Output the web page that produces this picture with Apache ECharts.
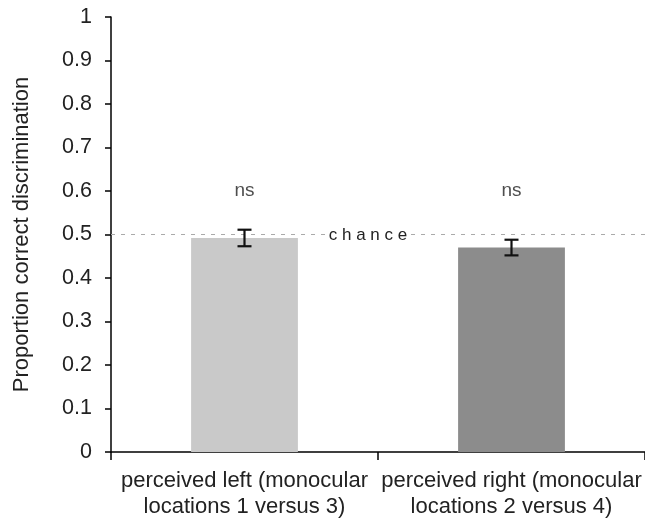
<!DOCTYPE html>
<html>
<head>
<meta charset="utf-8">
<script src="https://cdn.jsdelivr.net/npm/echarts@6/dist/echarts.min.js"></script>
<style>
  html, body { margin: 0; padding: 0; background: #fff; }
  #chart { width: 645px; height: 521px; }
</style>
</head>
<body>
<div id="chart"></div>
<script>
// bar chart: proportion correct discrimination, with chance line

var categories = ['perceived left (monocular\nlocations 1 versus 3)', 'perceived right (monocular\nlocations 2 versus 4)'];
var means = [0.492, 0.470];
var errors = [0.019, 0.018];
var barColors = ['#c9c9c9', '#8c8c8c'];
var sigLabels = ['ns', 'ns'];
var sigLevel = 0.6;
var chance = 0.5;

var chart = echarts.init(document.getElementById('chart'));

var font = 'Liberation Sans, Arial, sans-serif';

option = {
    animation: false,
    grid: {
        left: 111,
        right: 0,
        top: 17,
        bottom: 69
    },
    xAxis: {
        type: 'category',
        data: categories,
        axisLine: { lineStyle: { color: '#000', width: 1.5 } },
        axisTick: { show: true, length: 8, lineStyle: { color: '#000', width: 1.5 } },
        axisLabel: {
            color: '#222',
            fontSize: 22,
            fontFamily: font,
            lineHeight: 26,
            margin: 16,
            interval: 0
        }
    },
    yAxis: {
        type: 'value',
        min: 0,
        max: 1,
        interval: 0.1,
        name: 'Proportion correct discrimination',
        nameLocation: 'middle',
        nameGap: 78,
        nameTextStyle: { color: '#222', fontSize: 22, fontFamily: font },
        splitLine: { show: false },
        axisLine: { show: true, lineStyle: { color: '#000', width: 1.5 } },
        axisTick: { show: true, length: 6, lineStyle: { color: '#000', width: 1.5 } },
        axisLabel: {
            color: '#222',
            fontSize: 21.5,
            fontFamily: font,
            margin: 19,
            formatter: function (v) { return String(Math.round(v * 10) / 10); }
        }
    },
    series: [
        {
            type: 'bar',
            barWidth: '40%',
            data: means.map(function (v, i) {
                return { value: v, itemStyle: { color: barColors[i] } };
            }),
            markLine: {
                silent: true,
                symbol: 'none',
                lineStyle: { color: '#aaa', type: [4, 6], width: 1.2 },
                label: {
                    show: true,
                    position: 'middle',
                    formatter: '{t|c h a n c e}{g|}',
                    distance: -9,
                    rich: {
                        t: {
                            color: '#222',
                            fontSize: 17,
                            fontFamily: font,
                            backgroundColor: '#fff',
                            padding: [0, 3]
                        },
                        g: { width: 20 }
                    }
                },
                data: [{ yAxis: chance }]
            }
        },
        {
            // error bars
            type: 'custom',
            data: means.map(function (v, i) { return [i, v - errors[i], v + errors[i]]; }),
            renderItem: function (params, api) {
                var lo = api.coord([api.value(0), api.value(1)]);
                var hi = api.coord([api.value(0), api.value(2)]);
                var w = 7;
                var st = { stroke: '#111', lineWidth: 2.2 };
                return {
                    type: 'group',
                    children: [
                        { type: 'line', shape: { x1: lo[0], y1: lo[1], x2: hi[0], y2: hi[1] }, style: st },
                        { type: 'line', shape: { x1: lo[0] - w, y1: lo[1], x2: lo[0] + w, y2: lo[1] }, style: st },
                        { type: 'line', shape: { x1: hi[0] - w, y1: hi[1], x2: hi[0] + w, y2: hi[1] }, style: st }
                    ]
                };
            },
            z: 5
        },
        {
            // significance labels
            type: 'scatter',
            symbolSize: 0,
            data: sigLabels.map(function (s, i) { return { value: [i, sigLevel], name: s }; }),
            label: {
                show: true,
                position: 'inside',
                formatter: '{b}',
                color: '#222',
                fontSize: 19,
                fontFamily: font
            }
        }
    ]
};

chart.setOption(option);
</script>
</body>
</html>
